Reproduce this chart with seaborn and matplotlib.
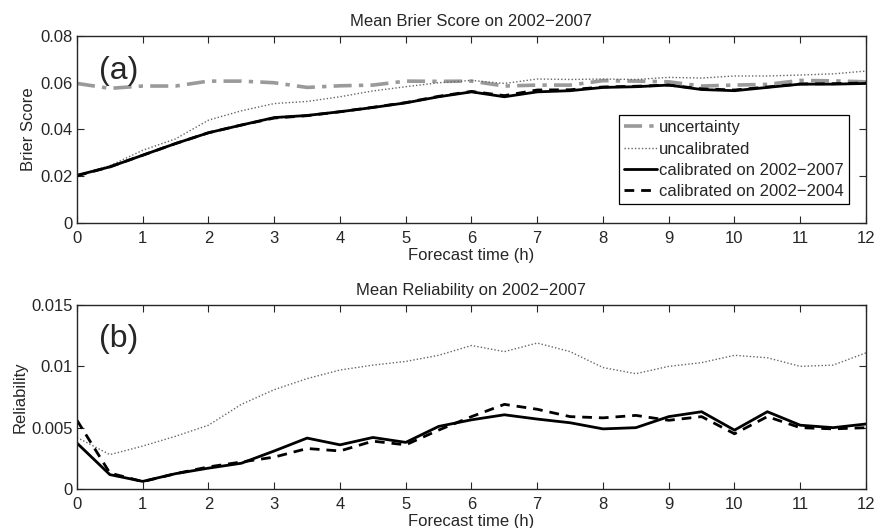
import matplotlib
matplotlib.use('Agg')
import matplotlib.pyplot as plt
import numpy as np
import pandas as pd
import seaborn as sns

# Forecast lead time (h), every half hour
hours = np.arange(0, 12.5, 0.5)

# Panel (a): mean Brier score
bs_uncertainty = [0.0597, 0.0576, 0.0586, 0.0586, 0.0607, 0.0607, 0.0600, 0.0580, 0.0587,
                  0.0590, 0.0607, 0.0606, 0.0607, 0.0586, 0.0590, 0.0590, 0.0609, 0.0607,
                  0.0604, 0.0586, 0.0590, 0.0593, 0.0610, 0.0608, 0.0604]
bs_uncalibrated = [0.0202, 0.0245, 0.0311, 0.0360, 0.0440, 0.0480, 0.0511, 0.0520, 0.0540,
                   0.0565, 0.0583, 0.0600, 0.0610, 0.0597, 0.0616, 0.0614, 0.0616, 0.0614,
                   0.0623, 0.0620, 0.0629, 0.0629, 0.0633, 0.0638, 0.0650]
bs_cal_0207 = [0.0204, 0.0240, 0.0290, 0.0340, 0.0386, 0.0419, 0.0451, 0.0460, 0.0476,
               0.0494, 0.0514, 0.0540, 0.0561, 0.0540, 0.0561, 0.0566, 0.0580, 0.0583,
               0.0590, 0.0571, 0.0566, 0.0580, 0.0594, 0.0594, 0.0597]
bs_cal_0204 = [0.0202, 0.0240, 0.0290, 0.0340, 0.0386, 0.0419, 0.0449, 0.0459, 0.0476,
               0.0495, 0.0515, 0.0542, 0.0563, 0.0545, 0.0569, 0.0570, 0.0582, 0.0585,
               0.0590, 0.0574, 0.0569, 0.0582, 0.0595, 0.0596, 0.0599]

# Panel (b): mean reliability
rel_uncalibrated = [0.0042, 0.0028, 0.0035, 0.0043, 0.0052, 0.0069, 0.0081, 0.0090, 0.0097,
                    0.0101, 0.0104, 0.0109, 0.0117, 0.0112, 0.0119, 0.0112, 0.0099, 0.0094,
                    0.0100, 0.0103, 0.0109, 0.0107, 0.0100, 0.0101, 0.0111]
rel_cal_0207 = [0.00374, 0.00117, 0.00062, 0.00125, 0.0017, 0.0021, 0.0031, 0.00415, 0.0036,
                0.0042, 0.0038, 0.0051, 0.00564, 0.00605, 0.0057, 0.0054, 0.0049, 0.0050,
                0.0059, 0.0063, 0.0048, 0.0063, 0.0052, 0.0050, 0.0053]
rel_cal_0204 = [0.0056, 0.0013, 0.0006, 0.00125, 0.0018, 0.0022, 0.0026, 0.0033, 0.0031,
                0.0039, 0.0036, 0.0048, 0.0059, 0.0069, 0.0065, 0.0059, 0.0058, 0.0060,
                0.0056, 0.0059, 0.0045, 0.0059, 0.0050, 0.0049, 0.0050]

sns.set_style('ticks')
plt.rcParams['font.family'] = ['Liberation Sans', 'DejaVu Sans']
plt.rcParams['xtick.direction'] = 'in'
plt.rcParams['ytick.direction'] = 'in'
plt.rcParams['xtick.top'] = True
plt.rcParams['ytick.right'] = True

gray = '#9a9a9a'
styles = {
    'uncertainty': dict(color=gray, lw=2.6, ls=(0, (5, 2, 1.2, 2))),
    'uncalibrated': dict(color='#666666', lw=1.0, ls=(0, (1, 1.5))),
    'calibrated on 2002\u22122007': dict(color='black', lw=2.0, ls='-'),
    'calibrated on 2002\u22122004': dict(color='black', lw=2.0, ls=(0, (3.5, 2.5))),
}

fig = plt.figure(figsize=(8.75, 5.28), dpi=100)
ax1 = fig.add_axes([0.088, 0.5777, 0.9017, 0.3541])
ax2 = fig.add_axes([0.088, 0.0739, 0.9017, 0.3484])

series_a = [('uncertainty', bs_uncertainty), ('uncalibrated', bs_uncalibrated),
            ('calibrated on 2002\u22122007', bs_cal_0207),
            ('calibrated on 2002\u22122004', bs_cal_0204)]
for name, vals in series_a:
    st = styles[name]
    sns.lineplot(x=hours, y=vals, ax=ax1, color=st['color'], linewidth=st['lw'],
                 linestyle=st['ls'], label=name)

series_b = [('uncalibrated', rel_uncalibrated),
            ('calibrated on 2002\u22122007', rel_cal_0207),
            ('calibrated on 2002\u22122004', rel_cal_0204)]
for name, vals in series_b:
    st = styles[name]
    sns.lineplot(x=hours, y=vals, ax=ax2, color=st['color'], linewidth=st['lw'],
                 linestyle=st['ls'], legend=False)

for ax in (ax1, ax2):
    ax.set_xlim(0, 12)
    ax.set_xticks(range(13))
    ax.tick_params(labelsize=12, length=5, width=0.8)
    ax.tick_params(axis='x', pad=5.5)
    ax.tick_params(axis='y', pad=3)
    for sp in ax.spines.values():
        sp.set_linewidth(1.0)
    ax.set_xlabel('Forecast time (h)', fontsize=12, labelpad=1.5)

ax1.set_ylim(0, 0.08)
ax1.set_yticks([0, 0.02, 0.04, 0.06, 0.08])
ax1.set_yticklabels(['0', '0.02', '0.04', '0.06', '0.08'])
ax1.set_ylabel('Brier Score', fontsize=12, labelpad=3)
ax1.set_title('Mean Brier Score on 2002\u22122007', fontsize=12, pad=7)
ax1.text(0.028, 0.77, '(a)', transform=ax1.transAxes, fontsize=23)

ax2.set_ylim(0, 0.015)
ax2.set_yticks([0, 0.005, 0.01, 0.015])
ax2.set_yticklabels(['0', '0.005', '0.01', '0.015'])
ax2.set_ylabel('Reliability', fontsize=12, labelpad=3)
ax2.set_title('Mean Reliability on 2002\u22122007', fontsize=12, pad=7)
ax2.text(0.028, 0.77, '(b)', transform=ax2.transAxes, fontsize=23)

leg = ax1.legend(loc='lower right', bbox_to_anchor=(0.978, 0.1), fontsize=12,
                 frameon=True, fancybox=False, edgecolor='black', framealpha=1,
                 handlelength=2.0, handletextpad=0.1, borderpad=0.3, labelspacing=0.38,
                 borderaxespad=0)
leg.get_frame().set_linewidth(0.9)

fig.savefig('out.png', dpi=100)
